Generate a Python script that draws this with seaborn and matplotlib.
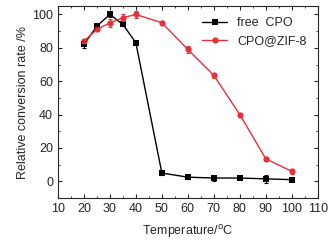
import pandas as pd
import matplotlib
matplotlib.use("Agg")
import matplotlib.pyplot as plt
import seaborn as sns
from matplotlib.ticker import MultipleLocator

# Datos
temp = [20, 25, 30, 35, 40, 50, 60, 70, 80, 90, 100]
free_cpo = [82, 93, 100, 94, 83, 5, 2.5, 2, 2, 1.5, 1]
free_err = [2, 1, 1.5, 1, 1.5, 1, 1, 1.5, 0.8, 2.5, 0.8]
zif_cpo = [84, 91, 95, 98, 100, 95, 79, 63.5, 40, 13.5, 6]
zif_err = [1, 1, 2.5, 2, 2, 0.8, 2, 1.5, 1, 0.8, 1.5]

df = pd.DataFrame({
    "Temperature": temp * 2,
    "rate": free_cpo + zif_cpo,
    "err": free_err + zif_err,
    "sample": ["free  CPO"] * len(temp) + ["CPO@ZIF-8"] * len(temp),
})

sns.set_style("ticks")
plt.rcParams["font.family"] = ["Liberation Sans", "DejaVu Sans"]

colors = {"free  CPO": "black", "CPO@ZIF-8": "#e8303a"}
markers = {"free  CPO": "s", "CPO@ZIF-8": "o"}

fig, ax = plt.subplots(figsize=(3.31, 2.43), dpi=100)
sns.lineplot(data=df, x="Temperature", y="rate", hue="sample", style="sample",
             palette=colors, markers=markers, dashes=False, markersize=4.5,
             markeredgewidth=0, linewidth=1, ax=ax)
for name, g in df.groupby("sample", sort=False):
    ax.errorbar(g["Temperature"], g["rate"], yerr=g["err"], fmt="none",
                ecolor=colors[name], elinewidth=0.8, capsize=1.5, capthick=0.8)

ax.set_xlim(10, 110)
ax.set_ylim(-10, 105)
ax.xaxis.set_major_locator(MultipleLocator(10))
ax.xaxis.set_minor_locator(MultipleLocator(5))
ax.yaxis.set_major_locator(MultipleLocator(20))
ax.yaxis.set_minor_locator(MultipleLocator(10))
ax.tick_params(which="both", direction="in", top=True, right=True, labelsize=9)
ax.tick_params(which="major", length=3)
ax.tick_params(which="minor", length=1.5)
for s in ax.spines.values():
    s.set_linewidth(0.8)

ax.set_xlabel("Temperature/$^{\\mathrm{o}}$C", fontsize=9, labelpad=6)
ax.set_ylabel("Relative conversion rate /%", fontsize=9, labelpad=2)
ax.legend(title=None, frameon=False, fontsize=9, loc="upper right",
          handlelength=2, borderaxespad=0.5)

fig.subplots_adjust(left=0.175, right=0.96, top=0.975, bottom=0.185)
fig.savefig("out.png", dpi=100)
